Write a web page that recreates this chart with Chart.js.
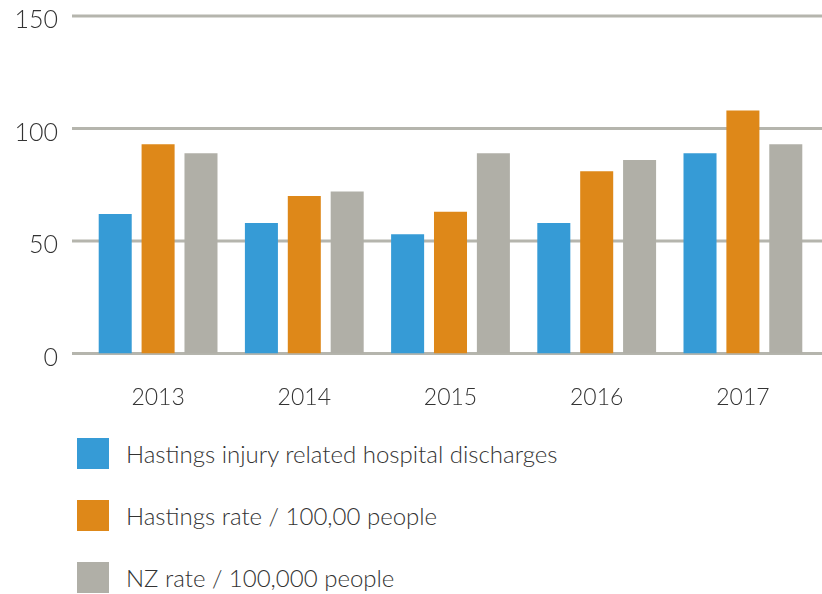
<!DOCTYPE html>
<html>
<head>
<meta charset="utf-8">
<script src="https://cdn.jsdelivr.net/npm/chart.js@4"></script>
<style>
  body { margin: 0; background: #fff; font-family: Lato, sans-serif; font-weight: 300; }
  #wrap { position: relative; width: 822px; height: 438px; margin-top: -18px; }
  #legend { position: absolute; left: 77px; top: 438px; }
  .item { display: flex; align-items: center; height: 31px; margin-bottom: 31px; font-size: 24px; color: #333; }
  .box { width: 32px; height: 31px; margin-right: 17px; }
</style>
</head>
<body>
<div id="wrap"><canvas id="chart"></canvas></div>
<div id="legend"></div>
<script>
const years = ["2013", "2014", "2015", "2016", "2017"];
const discharges = [62, 58, 53, 58, 89];
const hastingsRate = [93, 70, 63, 81, 108];
const nzRate = [89, 72, 89, 86, 93];
const yTicks = [0, 50, 100, 150];

const seriesNames = ["Hastings injury related hospital discharges", "Hastings rate / 100,00 people", "NZ rate / 100,000 people"];
const colors = ["#369bd6", "#de8819", "#b0afa7"];

// legend as plain html below the chart
const legend = document.getElementById("legend");
seriesNames.forEach((name, i) => {
  const item = document.createElement("div");
  item.className = "item";
  const box = document.createElement("div");
  box.className = "box";
  box.style.background = colors[i];
  const label = document.createElement("span");
  label.textContent = name;
  item.appendChild(box);
  item.appendChild(label);
  legend.appendChild(item);
});

// grid lines run wider than the plot area
const wideGrid = {
  id: "wideGrid",
  beforeDatasetsDraw(chart) {
    const ctx = chart.ctx;
    const y = chart.scales.y;
    ctx.save();
    ctx.strokeStyle = "#b5b5ad";
    ctx.lineWidth = 3;
    yTicks.forEach((t) => {
      const py = y.getPixelForValue(t);
      ctx.beginPath();
      ctx.moveTo(72, py);
      ctx.lineTo(chart.width, py);
      ctx.stroke();
    });
    ctx.restore();
  },
};

const font = { family: "Lato", weight: 300 };

new Chart(document.getElementById("chart"), {
  type: "bar",
  data: {
    labels: years,
    datasets: [discharges, hastingsRate, nzRate].map((d, i) => ({
      label: seriesNames[i],
      data: d,
      backgroundColor: colors[i],
      barPercentage: 0.77,
      categoryPercentage: 0.88,
    })),
  },
  options: {
    responsive: true,
    maintainAspectRatio: false,
    animation: false,
    layout: { padding: { top: 0, right: 6 } },
    plugins: { legend: { display: false }, tooltip: { enabled: false } },
    scales: {
      x: {
        grid: { display: false },
        border: { display: false },
        ticks: { color: "#333", font: { ...font, size: 23 }, padding: 22 },
        afterFit: (s) => { s.height = 66.5; },
      },
      y: {
        min: 0,
        max: 150,
        afterBuildTicks: (s) => { s.ticks = yTicks.map((v) => ({ value: v })); },
        grid: { display: false },
        border: { display: false },
        ticks: { color: "#333", font: { ...font, size: 25 }, padding: 19, labelOffset: 4 },
        afterFit: (s) => { s.width = 85; },
      },
    },
  },
  plugins: [wideGrid],
});
</script>
</body>
</html>
